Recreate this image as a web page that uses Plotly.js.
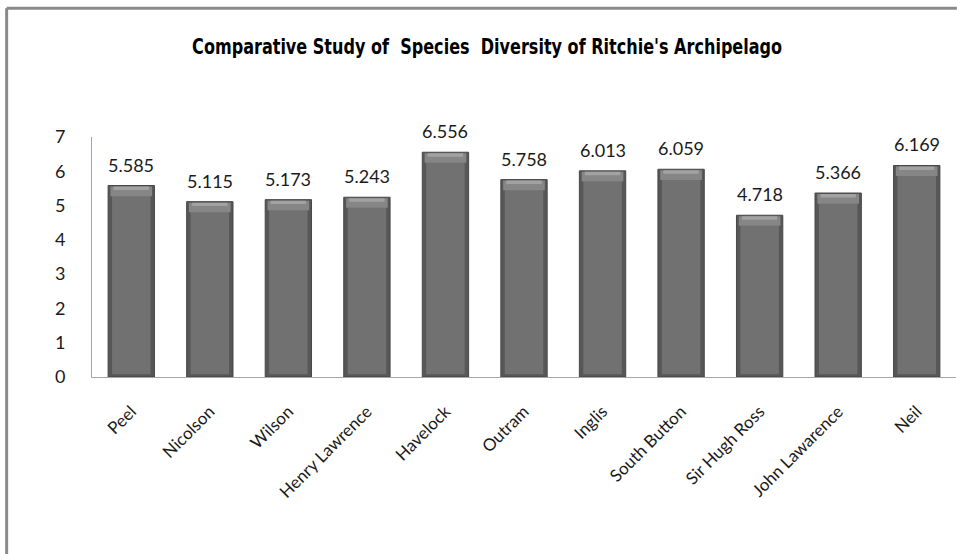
<!DOCTYPE html>
<html>
<head>
<meta charset="utf-8">
<script src="https://cdn.plot.ly/plotly-3.0.1.min.js"></script>
<style>
html,body{margin:0;padding:0;background:#fff;}
#chart{width:957px;height:554px;}
</style>
</head>
<body>
<div id="chart"></div>
<script>
const islands = ["Peel", "Nicolson", "Wilson", "Henry Lawrence", "Havelock", "Outram", "Inglis", "South Button", "Sir Hugh Ross", "John Lawarence", "Neil"];
const diversity = [5.585, 5.115, 5.173, 5.243, 6.556, 5.758, 6.013, 6.059, 4.718, 5.366, 6.169];
const yTicks = [0, 1, 2, 3, 4, 5, 6, 7];
const chartTitle = "Comparative Study of\u00a0\u00a0Species\u00a0\u00a0Diversity of Ritchie's Archipelago";

const capH = 0.28;
const outer = {
  type: "bar", x: islands, y: diversity, width: 0.59,
  marker: {color: "#575757", line: {color: "#474747", width: 1}},
  hoverinfo: "x+y", showlegend: false
};
const inner = {
  type: "bar", x: islands, y: diversity.map(v => v - capH - 0.1), base: 0.08, width: 0.49,
  marker: {color: "#717171", line: {width: 0}},
  hoverinfo: "skip", showlegend: false
};
const cap = {
  type: "bar", x: islands, y: diversity.map(() => capH), base: diversity.map(v => v - capH - 0.03), width: 0.53,
  marker: {color: "#868686", line: {width: 0}},
  hoverinfo: "skip", showlegend: false
};
const highlight = {
  type: "bar", x: islands, y: diversity.map(() => 0.1), base: diversity.map(v => v - 0.13), width: 0.45,
  marker: {color: "#a2a2a2", line: {width: 0}},
  hoverinfo: "skip", showlegend: false
};

const annotations = islands.map((c, i) => ({
  x: c, y: diversity[i], xref: "x", yref: "y",
  text: diversity[i].toFixed(3), showarrow: false,
  yanchor: "bottom", yshift: 8,
  font: {family: "Lato, 'Open Sans', sans-serif", size: 18, color: "#1a1a1a"}
}));

const layout = {
  width: 957, height: 554,
  margin: {l: 92, r: 1, t: 137, b: 177},
  paper_bgcolor: "#fff", plot_bgcolor: "#fff",
  barmode: "overlay",
  title: {
    text: chartTitle, x: 0.509, xref: "container", xanchor: "center", y: 0.917, yref: "container", yanchor: "middle",
    font: {family: "'DejaVu Sans', sans-serif", size: 22, weight: 700, color: "#000"}
  },
  xaxis: {
    type: "category", tickangle: -45, showgrid: false, zeroline: false,
    showline: true, linecolor: "#a6a6a6", linewidth: 1, ticks: "",
    ticklabelstandoff: 17,
    tickfont: {family: "Lato, 'Open Sans', sans-serif", size: 17, color: "#1a1a1a"}
  },
  yaxis: {
    range: [0, 7], tickvals: yTicks, showgrid: false, zeroline: false,
    showline: true, linecolor: "#a6a6a6", linewidth: 1, ticks: "",
    ticklabelstandoff: 22,
    tickfont: {family: "Lato, 'Open Sans', sans-serif", size: 18, color: "#1a1a1a"}
  },
  annotations: annotations,
  shapes: [
    {type: "line", xref: "paper", yref: "paper", x0: -0.0988, x1: 1.001, y0: 1.536, y1: 1.536, line: {color: "#8a8a8a", width: 3}},
    {type: "line", xref: "paper", yref: "paper", x0: -0.0988, x1: -0.0988, y0: 1.536, y1: -0.75, line: {color: "#8a8a8a", width: 3}}
  ]
};

Plotly.newPlot("chart", [outer, inner, cap, highlight], layout, {displayModeBar: false, staticPlot: true}).then(gd => {
  gd.querySelectorAll(".gtitle").forEach(t => {
    t.style.fontStretch = "condensed";
    t.setAttribute("textLength", "590");
    t.setAttribute("lengthAdjust", "spacingAndGlyphs");
  });
});
</script>
</body>
</html>
